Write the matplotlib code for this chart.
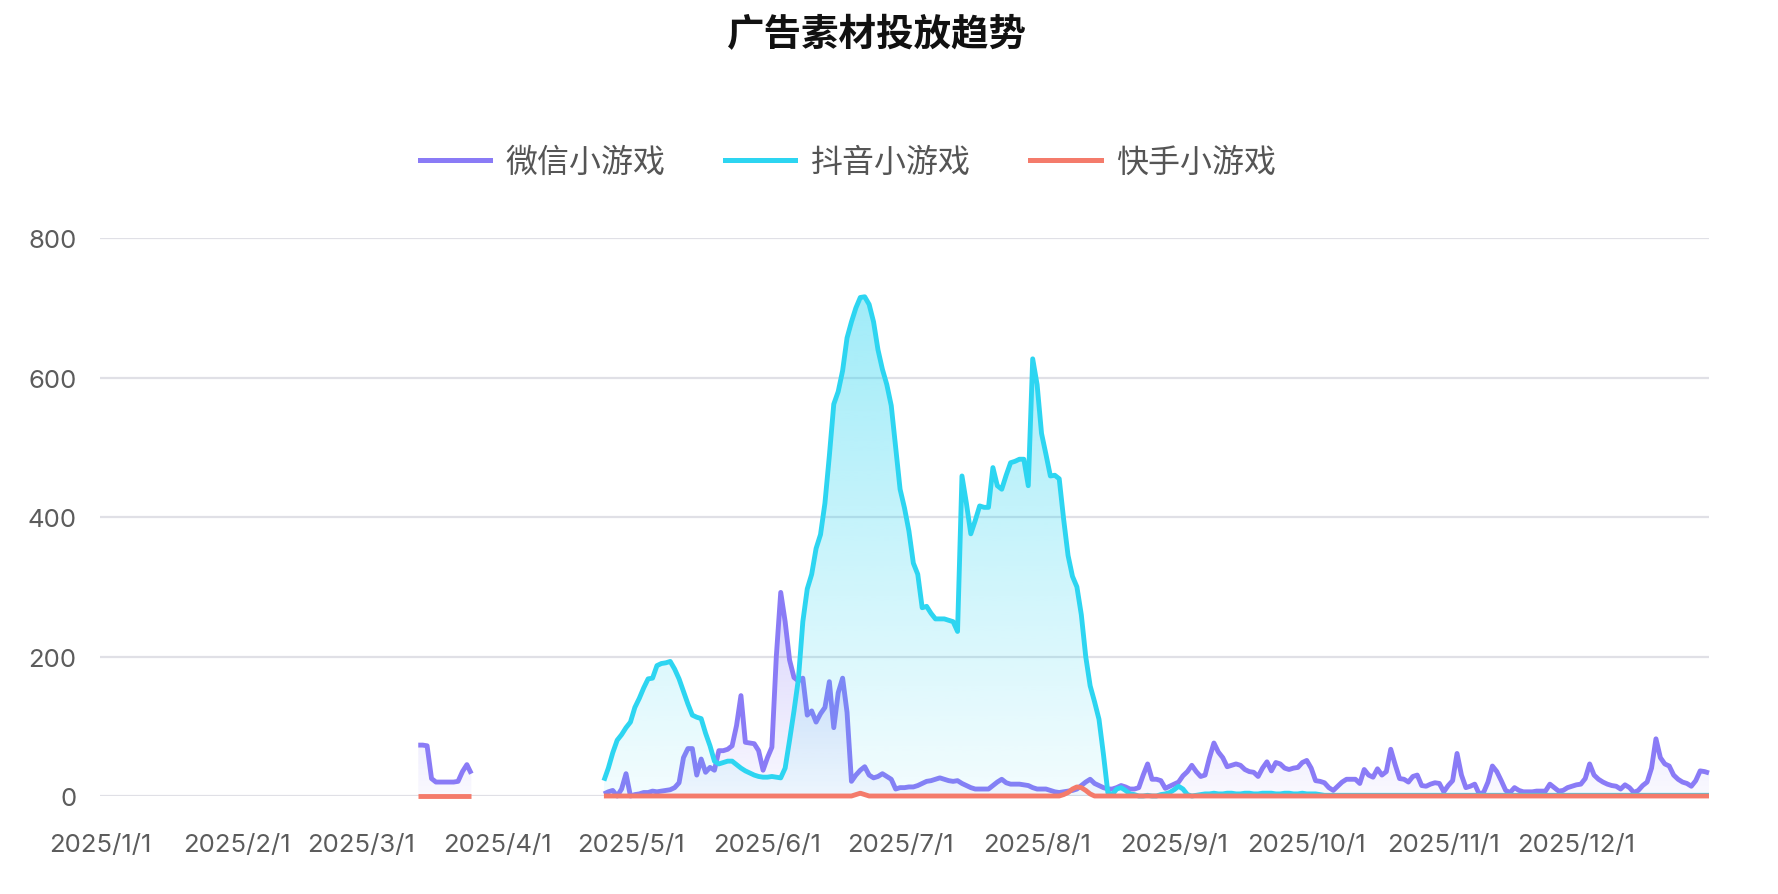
import numpy as np
import pandas as pd
import matplotlib
matplotlib.use('Agg')
import matplotlib.pyplot as plt
import matplotlib.dates as mdates
import matplotlib.colors as mcolors
from matplotlib.lines import Line2D

plt.rcParams['font.family'] = ['Inter', 'Noto Sans CJK SC', 'DejaVu Sans']

# ---- data (daily values) ----
series_names = ['微信小游戏', '抖音小游戏', '快手小游戏']
series_colors = ['#8A7BF6', '#2DD5F1', '#F47B6B']

# 微信小游戏: a short run in March, then Apr 25 .. Dec 31
wx_start_1 = '2025-03-14'
wx_vals_1 = [73, 73, 72, 25, 20, 20, 20, 20, 20, 21, 35, 45, 32]
wx_start_2 = '2025-04-25'
wx_vals_2 = [
    3, 6, 8, 0, 10, 32, 0, 2, 3, 5,
    5, 7, 6, 7, 8, 9, 12, 19, 55, 68,
    68, 30, 53, 34, 41, 37, 65, 65, 67, 72,
    101, 144, 77, 76, 75, 65, 37, 55, 70, 200,
    292, 250, 195, 170, 165, 169, 116, 122, 106, 118,
    127, 164, 98, 148, 169, 120, 21, 30, 37, 42,
    30, 26, 28, 32, 28, 24, 10, 12, 12, 13,
    13, 15, 18, 21, 22, 24, 26, 24, 22, 21,
    22, 18, 15, 12, 10, 10, 10, 10, 15, 20,
    24, 19, 17, 17, 17, 16, 15, 12, 10, 10,
    10, 8, 6, 5, 6, 7, 8, 10, 15, 20,
    24, 18, 15, 12, 10, 10, 12, 15, 13, 10,
    10, 12, 30, 46, 24, 24, 22, 11, 14, 17,
    20, 29, 35, 44, 35, 28, 30, 55, 76, 63,
    55, 42, 44, 46, 44, 38, 35, 34, 28, 40,
    49, 36, 48, 46, 40, 38, 40, 41, 48, 51,
    40, 22, 21, 19, 12, 8, 14, 20, 24, 24,
    24, 18, 38, 30, 27, 39, 30, 35, 67, 45,
    25, 24, 20, 28, 30, 15, 14, 17, 19, 18,
    6, 15, 22, 61, 30, 12, 14, 17, 3, 5,
    20, 43, 35, 22, 8, 5, 12, 8, 6, 6,
    6, 7, 7, 7, 17, 12, 7, 8, 12, 14,
    16, 17, 25, 46, 30, 24, 20, 17, 15, 14,
    10, 16, 12, 5, 8, 15, 20, 40, 82, 55,
    46, 43, 30, 24, 20, 18, 14, 22, 36, 35,
    33,
]

# 抖音小游戏: Apr 25 .. Dec 31
dy_start = '2025-04-25'
dy_vals = [
    22, 40, 62, 80, 88, 98, 106, 127, 140, 155,
    168, 169, 187, 190, 191, 193, 182, 168, 150, 132,
    116, 113, 111, 90, 72, 50, 46, 48, 50, 50,
    45, 40, 36, 33, 30, 28, 27, 27, 28, 27,
    26, 40, 80, 122, 168, 250, 297, 318, 355, 375,
    420, 488, 562, 580, 610, 657, 680, 700, 715, 716,
    705, 680, 640, 612, 590, 560, 500, 440, 413, 380,
    334, 318, 270, 272, 262, 254, 254, 254, 252, 250,
    236, 459, 420, 376, 395, 416, 414, 414, 471, 445,
    440, 460, 478, 480, 483, 483, 445, 627, 590, 520,
    490, 459, 460, 455, 397, 345, 315, 300, 260, 200,
    158, 135, 110, 60, 5, 2, 10, 12, 8, 3,
    2, 0, 0, 1, 0, 0, 2, 3, 5, 9,
    14, 10, 2, 0, 1, 2, 3, 3, 4, 3,
    3, 4, 4, 3, 3, 4, 4, 3, 3, 4,
    4, 4, 3, 3, 4, 4, 3, 3, 4, 3,
    3, 3, 2, 1, 1, 1, 1, 1, 1, 1,
    1, 1, 1, 1, 1, 1, 1, 1, 1, 1,
    1, 1, 1, 1, 1, 1, 1, 1, 1, 1,
    1, 1, 1, 1, 1, 1, 1, 1, 1, 1,
    1, 1, 1, 1, 1, 1, 1, 1, 1, 1,
    1, 1, 1, 1, 1, 1, 1, 1, 1, 1,
    1, 1, 1, 1, 1, 1, 1, 1, 1, 1,
    1, 1, 1, 1, 1, 1, 1, 1, 1, 1,
    1, 1, 1, 1, 1, 1, 1, 1, 1, 1,
    1,
]

# 快手小游戏: same runs as 微信, almost all zero
ks_start_1 = '2025-03-14'
ks_vals_1 = [0, 0, 0, 0, 0, 0, 0, 0, 0, 0, 0, 0, 0]
ks_start_2 = '2025-04-25'
ks_vals_2 = [
    0, 0, 0, 0, 0, 0, 0, 0, 0, 0,
    0, 0, 0, 0, 0, 0, 0, 0, 0, 0,
    0, 0, 0, 0, 0, 0, 0, 0, 0, 0,
    0, 0, 0, 0, 0, 0, 0, 0, 0, 0,
    0, 0, 0, 0, 0, 0, 0, 0, 0, 0,
    0, 0, 0, 0, 0, 0, 0, 2, 4, 2,
    0, 0, 0, 0, 0, 0, 0, 0, 0, 0,
    0, 0, 0, 0, 0, 0, 0, 0, 0, 0,
    0, 0, 0, 0, 0, 0, 0, 0, 0, 0,
    0, 0, 0, 0, 0, 0, 0, 0, 0, 0,
    0, 0, 0, 0, 2, 5, 10, 13, 12, 8,
    3, 0, 0, 0, 0, 0, 0, 0, 0, 0,
    0, 0, 0, 0, 0, 0, 0, 0, 0, 0,
    0, 0, 0, 0, 0, 0, 0, 0, 0, 0,
    0, 0, 0, 0, 0, 0, 0, 0, 0, 0,
    0, 0, 0, 0, 0, 0, 0, 0, 0, 0,
    0, 0, 0, 0, 0, 0, 0, 0, 0, 0,
    0, 0, 0, 0, 0, 0, 0, 0, 0, 0,
    0, 0, 0, 0, 0, 0, 0, 0, 0, 0,
    0, 0, 0, 0, 0, 0, 0, 0, 0, 0,
    0, 0, 0, 0, 0, 0, 0, 0, 0, 0,
    0, 0, 0, 0, 0, 0, 0, 0, 0, 0,
    0, 0, 0, 0, 0, 0, 0, 0, 0, 0,
    0, 0, 0, 0, 0, 0, 0, 0, 0, 0,
    0, 0, 0, 0, 0, 0, 0, 0, 0, 0,
    0,
]

month_starts = pd.date_range('2025-01-01', '2025-12-01', freq='MS')
tick_labels = ['2025/%d/1' % m for m in range(1, 13)]
y_ticks = [0, 200, 400, 600, 800]


def run(start, vals):
    d = pd.date_range(start, periods=len(vals), freq='D')
    return mdates.date2num(d.to_pydatetime()), np.array(vals, dtype=float)


def gradient_area(ax, x, y, color, ytop, a_top, a_bot, z):
    poly = ax.fill_between(x, y, 0, facecolor='none', edgecolor='none')
    img = np.zeros((256, 1, 4))
    img[..., :3] = mcolors.to_rgb(color)
    img[..., 3] = np.linspace(a_bot, a_top, 256)[:, None]
    im = ax.imshow(img, aspect='auto', origin='lower', interpolation='bilinear',
                   extent=[x.min(), x.max(), 0, ytop], zorder=z)
    im.set_clip_path(poly.get_paths()[0], transform=ax.transData)


fig = plt.figure(figsize=(17.78, 8.95), dpi=100)
ax = fig.add_axes([100 / 1778, 98 / 895, 1609 / 1778, 557.8 / 895])

wx_runs = [run(wx_start_1, wx_vals_1), run(wx_start_2, wx_vals_2)]
dy_runs = [run(dy_start, dy_vals)]
ks_runs = [run(ks_start_1, ks_vals_1), run(ks_start_2, ks_vals_2)]

lw = 3.5
wx_top = max(max(wx_vals_1), max(wx_vals_2))
for x, y in wx_runs:
    gradient_area(ax, x, y, series_colors[0], wx_top, 0.33, 0.05, 1)
    ax.plot(x, y, color=series_colors[0], lw=lw, zorder=2, clip_on=False,
            solid_joinstyle='round', solid_capstyle='butt')
for x, y in dy_runs:
    gradient_area(ax, x, y, series_colors[1], max(dy_vals), 0.45, 0.06, 3)
    ax.plot(x, y, color=series_colors[1], lw=lw, zorder=4, clip_on=False,
            solid_joinstyle='round', solid_capstyle='butt')
for x, y in ks_runs:
    ax.plot(x, y, color=series_colors[2], lw=lw, zorder=5, clip_on=False,
            solid_joinstyle='round', solid_capstyle='butt')

ax.set_xlim(mdates.date2num(pd.Timestamp('2025-01-01')),
            mdates.date2num(pd.Timestamp('2025-12-31')))
ax.set_ylim(0, 800)
ax.set_xticks(mdates.date2num(month_starts.to_pydatetime()))
ax.set_xticklabels(tick_labels)
ax.set_yticks(y_ticks)
ax.tick_params(axis='x', length=0, pad=27, labelsize=18.5, labelcolor='#5c5c5c')
ax.tick_params(axis='y', length=0, pad=17, labelsize=18.5, labelcolor='#5c5c5c')
for s in ax.spines.values():
    s.set_visible(False)
ax.yaxis.grid(True, color='#E0E0E6', lw=1.6, zorder=0)
ax.set_axisbelow(True)

fig.text(877 / 1778, 1 - 35 / 895, '广告素材投放趋势', ha='center', va='center',
         fontsize=27, fontweight='bold', color='#111111',
         family=['Noto Sans CJK SC', 'DejaVu Sans'])

handles = [Line2D([], [], color=c, lw=3.6) for c in series_colors]
fig.legend(handles, series_names, loc='center', bbox_to_anchor=(848 / 1778, 1 - 163 / 895),
           ncol=3, frameon=False, handlelength=2.2, handletextpad=0.5,
           columnspacing=1.85, labelcolor='#555555',
           prop={'family': ['Noto Sans CJK SC', 'DejaVu Sans'], 'size': 23})

fig.savefig('out.png', dpi=100)
